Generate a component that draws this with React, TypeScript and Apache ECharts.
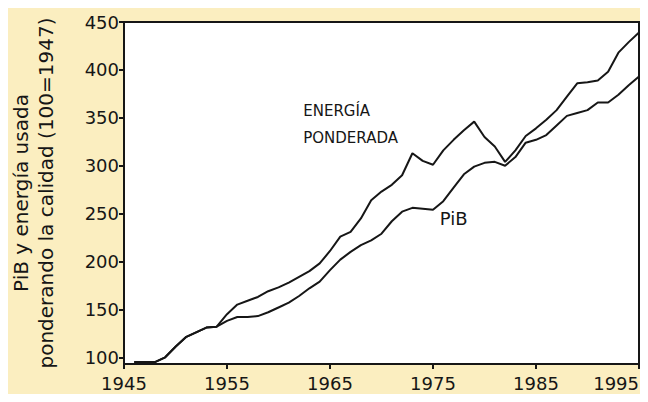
import React, { useEffect, useRef } from "react";
import * as echarts from "echarts";

const years = [
  1946, 1947, 1948, 1949, 1950, 1951, 1952, 1953, 1954, 1955,
  1956, 1957, 1958, 1959, 1960, 1961, 1962, 1963, 1964, 1965,
  1966, 1967, 1968, 1969, 1970, 1971, 1972, 1973, 1974, 1975,
  1976, 1977, 1978, 1979, 1980, 1981, 1982, 1983, 1984, 1985,
  1986, 1987, 1988, 1989, 1990, 1991, 1992, 1993, 1994, 1995,
];

const energia = [
  95, 95, 95, 100, 111, 121, 126, 131, 132, 145,
  155, 159, 163, 169, 173, 178, 184, 190, 198, 211,
  226, 231, 245, 264, 273, 280, 290, 313, 305, 301,
  316, 327, 337, 346, 330, 320, 304, 316, 331, 339,
  348, 358, 372, 386, 387, 389, 398, 418, 429, 439,
];

const pib = [
  95, 95, 95, 100, 111, 121, 126, 131, 132, 138,
  142, 142, 143, 147, 152, 157, 164, 172, 179, 191,
  202, 210, 217, 222, 229, 242, 252, 256, 255, 254,
  263, 277, 291, 299, 303, 304, 300, 309, 324, 327,
  332, 342, 352, 355, 358, 366, 366, 374, 384, 393,
];

const xTicks = [1945, 1955, 1965, 1975, 1985, 1995];
const yTicks = [100, 150, 200, 250, 300, 350, 400, 450];

const yTitle = "PiB y energía usada\nponderando la calidad (100=1947)";
const energiaLabel = "ENERGÍA\nPONDERADA";
const pibLabel = "PiB";

const FONT = "DejaVu Sans";
const INK = "#161616";

export default function App() {
  const ref = useRef<HTMLDivElement>(null);

  useEffect(() => {
    if (!ref.current) return;
    const chart = echarts.init(ref.current, null, { renderer: "svg" });
    const toPairs = (vals: number[]) => years.map((y, i) => [y, vals[i]]);

    chart.setOption({
      animation: false,
      backgroundColor: "#FBEEC0",
      textStyle: { fontFamily: FONT, color: INK },
      grid: {
        left: 122,
        right: 9,
        top: 22,
        bottom: 38,
        show: true,
        backgroundColor: "#ffffff",
        borderColor: INK,
        borderWidth: 2,
      },
      xAxis: {
        type: "value",
        min: 1945,
        max: 1995,
        splitLine: { show: false },
        axisLine: { show: true, lineStyle: { color: INK, width: 2 } },
        axisTick: {
          show: true,
          length: 5,
          customValues: xTicks,
          lineStyle: { color: INK, width: 2 },
        },
        axisLabel: {
          customValues: xTicks,
          fontSize: 18,
          color: INK,
          fontFamily: FONT,
          margin: 10,
          alignMaxLabel: "right",
          formatter: (v: number) => String(v),
        },
      },
      yAxis: {
        type: "value",
        min: 93,
        max: 450,
        splitLine: { show: false },
        axisLine: { show: true, lineStyle: { color: INK, width: 2 } },
        axisTick: {
          show: true,
          length: 5,
          customValues: yTicks,
          lineStyle: { color: INK, width: 2 },
        },
        axisLabel: {
          customValues: yTicks,
          fontSize: 18,
          color: INK,
          fontFamily: FONT,
          margin: 5,
          formatter: (v: number) => String(v),
        },
        name: yTitle,
        nameLocation: "middle",
        nameRotate: 90,
        nameGap: 66,
        nameTextStyle: {
          fontSize: 20,
          lineHeight: 25,
          color: INK,
          fontFamily: FONT,
          align: "center",
        },
      },
      series: [
        {
          name: "Energía ponderada",
          type: "line",
          data: toPairs(energia),
          showSymbol: false,
          symbol: "none",
          lineStyle: { color: INK, width: 2 },
          markPoint: {
            symbol: "circle",
            symbolSize: 0,
            data: [
              {
                coord: [1962.4, 343],
                label: {
                  show: true,
                  formatter: energiaLabel,
                  position: "right",
                  align: "left",
                  fontSize: 15,
                  lineHeight: 27,
                  fontFamily: FONT,
                  color: INK,
                  distance: 0,
                },
              },
            ],
          },
        },
        {
          name: "PiB",
          type: "line",
          data: toPairs(pib),
          showSymbol: false,
          symbol: "none",
          lineStyle: { color: INK, width: 2 },
          markPoint: {
            symbol: "circle",
            symbolSize: 0,
            data: [
              {
                coord: [1977.0, 245],
                label: {
                  show: true,
                  formatter: pibLabel,
                  position: "inside",
                  fontSize: 18,
                  fontFamily: FONT,
                  color: INK,
                },
              },
            ],
          },
        },
      ],
    });

    return () => chart.dispose();
  }, []);

  return <div ref={ref} style={{ width: 648, height: 402, margin: -8 }} />;
}
